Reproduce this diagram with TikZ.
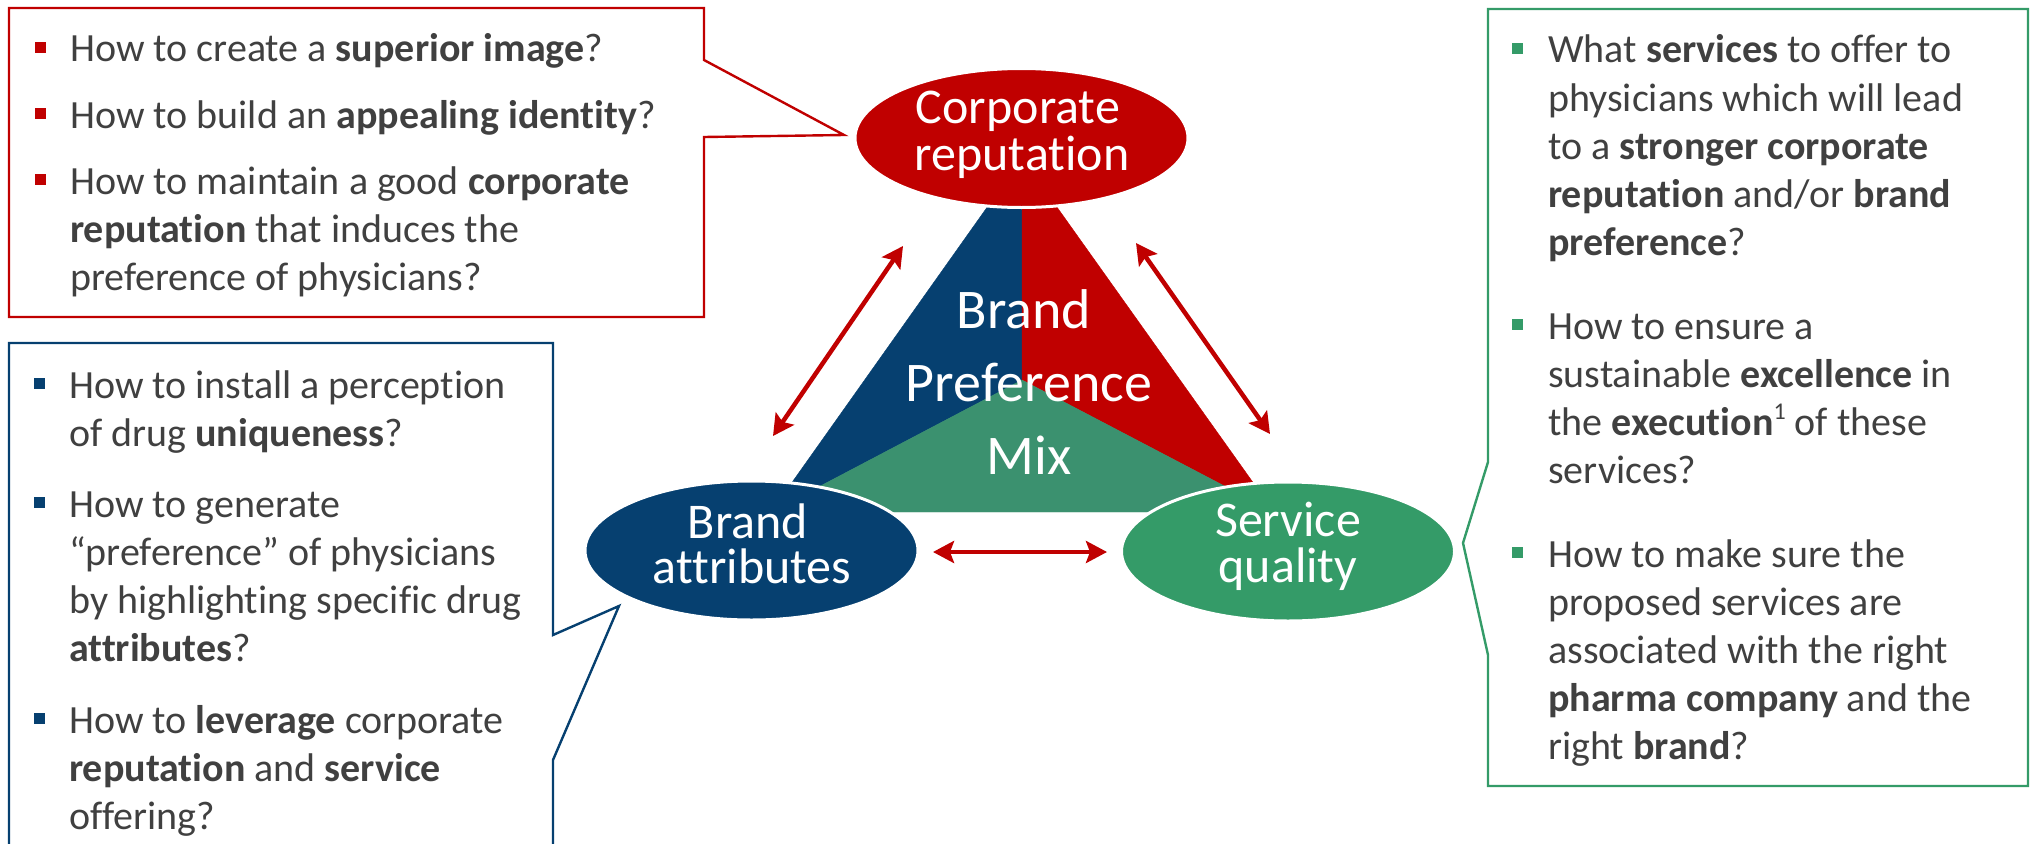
\documentclass[tikz,border=0pt]{standalone}
\usepackage{fontspec}
\setmainfont[Ligatures=NoCommon]{Carlito}
\usetikzlibrary{shapes.geometric,arrows.meta}
\definecolor{cred}{HTML}{C00000}
\definecolor{cblue}{HTML}{064070}
\definecolor{cgreen}{HTML}{349B68}
\definecolor{tgreen}{HTML}{3B916F}
\definecolor{tgray}{HTML}{404040}
\newcommand{\supone}{\raisebox{0.38em}{\fontsize{24}{24}\selectfont 1}}
\begin{document}
\begin{tikzpicture}[x=1pt,y=-1pt,
  boxtxt/.style={anchor=base west, inner sep=0pt, text=tgray, font=\fontsize{40}{48}\selectfont},
  bul/.style={rectangle, inner sep=0pt, minimum size=11pt},
  elltxt/.style={anchor=base, inner sep=0pt, text=white, font=\fontsize{50}{50}\selectfont},
  midtxt/.style={anchor=base, inner sep=0pt, text=white, font=\fontsize{56}{56}\selectfont},
  oval/.style={ellipse, draw=white, line width=3pt, inner sep=0pt, minimum width=333pt, minimum height=139pt},
  callout/.style={line width=2.4pt, line join=miter},
  biarrow/.style={draw=cred, line width=4.5pt, {Stealth[length=21pt,width=22pt,inset=4pt]}-{Stealth[length=21pt,width=22pt,inset=4pt]}}
]
\useasboundingbox (0,0) rectangle (2031,843);
\clip (0,0) rectangle (2031,843);

% central triangle
\coordinate (tA) at (1022,158);
\coordinate (tBL) at (771,512);
\coordinate (tBR) at (1274,512);
\coordinate (tC) at (1022,380);
\filldraw[cblue, line width=0.4pt] (tA) -- (tBL) -- (tC) -- cycle;
\filldraw[cred, line width=0.4pt] (tA) -- (tC) -- (tBR) -- cycle;
\filldraw[tgreen, line width=0.4pt] (tBL) -- (tBR) -- (tC) -- cycle;

\node[midtxt] (m1) at (1024,328) {Brand};
\node[midtxt] (m2) at (1029,401) {Preference};
\node[midtxt] (m3) at (1029,474) {Mix};

% ellipses
\node[oval, fill=cred] (cr) at (1021.5,138) {};
\node[oval, fill=cblue] (ba) at (751.5,550.5) {};
\node[oval, fill=cgreen] (sq) at (1288,551.5) {};
\node[elltxt] (crA) at (1018,123) {Corporate};
\node[elltxt] (crB) at (1022,170) {reputation};
\node[elltxt] (baA) at (748,538) {Brand};
\node[elltxt] (baB) at (752,583) {attributes};
\node[elltxt] (sqA) at (1288,536) {Service};
\node[elltxt] (sqB) at (1288,582) {quality};

% arrows
\coordinate (aL1) at (773,436); \coordinate (aL2) at (903,246);
\coordinate (aR1) at (1136,243); \coordinate (aR2) at (1270,434);
\coordinate (aH1) at (933,552); \coordinate (aH2) at (1107,552);
\draw[biarrow] (aL1) -- (aL2);
\draw[biarrow] (aR1) -- (aR2);
\draw[biarrow] (aH1) -- (aH2);

% callout boxes
\coordinate (rtip) at (844,135);
\coordinate (btip) at (619,606);
\coordinate (gtip) at (1463,543);
\draw[callout, cred] (9,8) -- (704,8) -- (704,60) -- (rtip) -- (704,137) -- (704,317) -- (9,317) -- cycle;
\draw[callout, cblue] (9,343) -- (553,343) -- (553,635) -- (btip) -- (553,760) -- (553,870) -- (9,870) -- cycle;
\draw[callout, cgreen] (1488,9) -- (2028,9) -- (2028,786) -- (1488,786) -- (1488,655) -- (gtip) -- (1488,462) -- cycle;

% red box text
\node[bul, fill=cred] (rb1) at (40,47.5) {};
\node[bul, fill=cred] (rb2) at (40,113.5) {};
\node[bul, fill=cred] (rb3) at (40,179.5) {};
\node[boxtxt] (r1) at (70,62) {How to create a \textbf{superior image}?};
\node[boxtxt] (r2) at (70,128) {How to build an \textbf{appealing identity}?};
\node[boxtxt] (r3) at (70,194) {How to maintain a good \textbf{corporate}};
\node[boxtxt] (r4) at (70,242) {\textbf{reputation} that induces the};
\node[boxtxt] (r5) at (70,290) {preference of physicians?};

% blue box text
\node[bul, fill=cblue] (bb1) at (39,383.5) {};
\node[bul, fill=cblue] (bb2) at (39,502.5) {};
\node[bul, fill=cblue] (bb3) at (39,718.5) {};
\node[boxtxt] (b1) at (69,398) {How to install a perception};
\node[boxtxt] (b2) at (69,446) {of drug \textbf{uniqueness}?};
\node[boxtxt] (b3) at (69,517) {How to generate};
\node[boxtxt] (b4) at (69,565) {“preference” of physicians};
\node[boxtxt] (b5) at (69,613) {by highlighting specific drug};
\node[boxtxt] (b6) at (69,661) {\textbf{attributes}?};
\node[boxtxt] (b7) at (69,733) {How to \textbf{leverage} corporate};
\node[boxtxt] (b8) at (69,781) {\textbf{reputation} and \textbf{service}};
\node[boxtxt] (b9) at (69,829) {offering?};

% green box text
\node[bul, fill=cgreen] (gb1) at (1517.5,48.5) {};
\node[bul, fill=cgreen] (gb2) at (1517.5,324.5) {};
\node[bul, fill=cgreen] (gb3) at (1517.5,552.5) {};
\node[boxtxt] (g1) at (1548,63) {What \textbf{services} to offer to};
\node[boxtxt] (g2) at (1548,111) {physicians which will lead};
\node[boxtxt] (g3) at (1548,159) {to a \textbf{stronger corporate}};
\node[boxtxt] (g4) at (1548,207) {\textbf{reputation} and/or \textbf{brand}};
\node[boxtxt] (g5) at (1548,255) {\textbf{preference}?};
\node[boxtxt] (g6) at (1548,339) {How to ensure a};
\node[boxtxt] (g7) at (1548,387) {sustainable \textbf{excellence} in};
\node[boxtxt] (g8) at (1548,435) {the \textbf{execution}\supone{} of these};
\node[boxtxt] (g9) at (1548,483) {services?};
\node[boxtxt] (g10) at (1548,567) {How to make sure the};
\node[boxtxt] (g11) at (1548,615) {proposed services are};
\node[boxtxt] (g12) at (1548,663) {associated with the right};
\node[boxtxt] (g13) at (1548,711) {\textbf{pharma company} and the};
\node[boxtxt] (g14) at (1548,759) {right \textbf{brand}?};
\end{tikzpicture}
\end{document}
